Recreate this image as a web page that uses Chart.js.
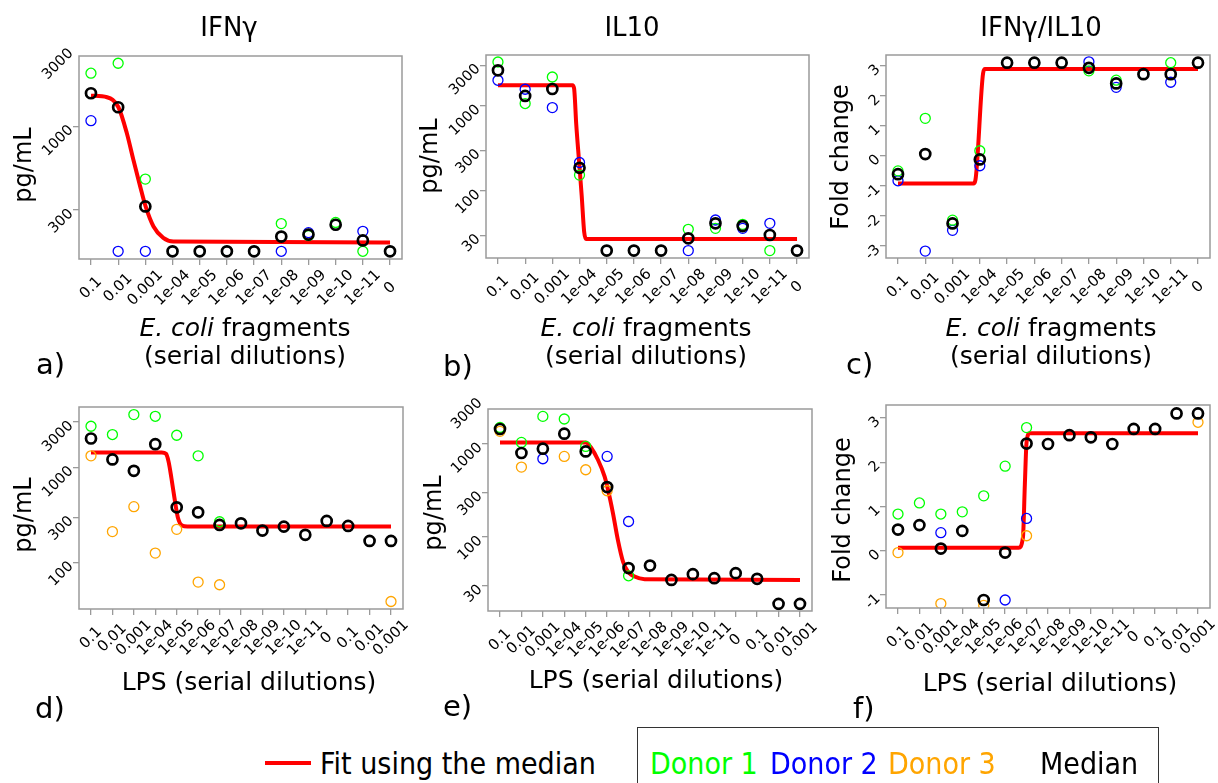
<!DOCTYPE html>
<html><head><meta charset="utf-8">
<script src="https://cdn.jsdelivr.net/npm/chart.js@4"></script>
<style>
body{margin:0;background:#fff;width:1218px;height:783px;overflow:hidden;position:relative;font-family:"DejaVu Sans",sans-serif;}
canvas{position:absolute;}
.t{position:absolute;white-space:nowrap;color:#000;line-height:1;}
.c{transform:translateX(-50%);}
.r{transform:translate(-50%,-50%) rotate(-90deg);}
.n{transform:scaleX(0.9);transform-origin:left center;}
</style></head><body>
<script>
// ---------- data ----------
const ecoliLabels = ['0.1','0.01','0.001','1e-04','1e-05','1e-06','1e-07','1e-08','1e-09','1e-10','1e-11','0'];
const lpsLabels = ['0.1','0.01','0.001','1e-04','1e-05','1e-06','1e-07','1e-08','1e-09','1e-10','1e-11','0','0.1','0.01','0.001'];

const ticksPg_a = [300, 1000, 3000];
const ticksPg_b = [30, 100, 300, 1000, 3000];
const ticksFold_c = [-3, -2, -1, 0, 1, 2, 3];
const ticksPg_d = [100, 300, 1000, 3000];
const ticksPg_e = [30, 100, 300, 1000, 3000];
const ticksFold_f = [-1, 0, 1, 2, 3];

// a) IFNg, E. coli
const aDonor1 = [2140, 2470, 468, 166, 166, 166, 166, 247, 208, 251, 166, 166];
const aDonor2 = [1083, 166, 166, 166, 166, 166, 166, 166, 217, 243, 221, 166];
const aMedian = [1605, 1313, 316, 166, 166, 166, 166, 205, 211, 243, 194, 166];
const aFitX = [0, 0.59, 1.01, 1.32, 1.56, 1.81, 2.01, 2.30, 2.66, 3.03, 11];
const aFitY = [1551, 1515, 1313, 904, 617, 421, 316, 237, 201, 191, 188.5];

// b) IL10, E. coli
const bDonor1 = [3266, 1061, 2178, 153, 19.8, 19.8, 19.8, 35.2, 36.2, 40.3, 19.8, 19.8];
const bDonor2 = [1992, 1562, 952, 215, 19.8, 19.8, 19.8, 19.8, 45.3, 36.2, 41.4, 19.8];
const bMedian = [2610, 1303, 1574, 186, 19.8, 19.8, 19.8, 27.6, 41.4, 38.5, 30.2, 19.8];
const bFitX = [0, 2.74, 2.80, 2.88, 2.98, 3.08, 3.17, 3.24, 11];
const bFitY = [1740, 1740, 1600, 600, 228, 87, 33, 27.1, 27.1];

// c) IFNg/IL10, E. coli
const cDonor1 = [-0.5, 1.25, -2.14, 0.17, 3.1, 3.1, 3.1, 2.83, 2.52, 2.72, 3.1, 3.1];
const cDonor2 = [-0.83, -3.17, -2.48, -0.33, 3.1, 3.1, 3.1, 3.13, 2.28, 2.72, 2.45, 3.1];
const cMedian = [-0.61, 0.06, -2.25, -0.12, 3.1, 3.1, 3.1, 2.93, 2.41, 2.72, 2.72, 3.1];
const cFitX = [0, 2.77, 2.84, 3.12, 3.19, 11];
const cFitY = [-0.92, -0.92, -0.8, 2.75, 2.89, 2.89];

// d) IFNg, LPS
const dDonor1 = [2707, 2216, 3589, 3444, 2178, 1323, 269, null, null, null, null, null, null, null, null];
const dDonor3 = [1323, 212, 387, 126, 224, 62.5, 58.6, null, null, null, null, null, null, null, 39.1];
const dMedian = [2013, 1213, 921, 1754, 381, 338, 249, 259, 217, 239, 196, 274, 243, 169, 169];
const dFitX = [0, 3.3, 3.5, 3.62, 3.75, 3.9, 4.05, 4.25, 4.5, 14];
const dFitY = [1436, 1436, 1390, 1150, 780, 470, 300, 245, 239, 239];

// e) IL10, LPS
const eDonor1 = [1496, 1033, 1963, 1841, 935, null, 38.4, null, null, null, null, null, null, null, null];
const eDonor2 = [null, null, 690, null, null, 731, 146.6, null, null, null, null, null, null, null, null];
const eDonor3 = [1356, 562, null, 731, 526, 313, null, null, null, null, null, null, null, null, null];
const eMedian = [1438, 795, 884, 1280, 827, 343, 46.4, 49.4, 34.7, 40.0, 36.2, 41.0, 35.6, 19.2, 19.2];
const eFitX = [0, 4.0, 4.26, 4.57, 4.88, 5.04, 5.27, 5.50, 5.74, 5.97, 6.28, 6.75, 14];
const eFitY = [1033, 1033, 899, 673, 446, 321, 180.5, 93.3, 54.6, 42.6, 37.7, 35.3, 34.7];

// f) IFNg/IL10, LPS
const fDonor1 = [0.83, 1.08, 0.83, 0.88, 1.24, 1.91, 2.78, null, null, null, null, null, null, null, null];
const fDonor2 = [null, null, 0.41, null, null, -1.11, 0.73, null, null, null, null, null, null, null, null];
const fDonor3 = [-0.04, null, -1.19, null, -1.23, null, 0.34, null, null, null, null, null, null, null, 2.9];
const fMedian = [0.48, 0.58, 0.05, 0.45, -1.11, -0.04, 2.42, 2.41, 2.61, 2.56, 2.41, 2.75, 2.75, 3.1, 3.1];
const fFitX = [0, 5.63, 5.83, 5.92, 6.0, 6.15, 14];
const fFitY = [0.07, 0.07, 0.3, 1.5, 2.45, 2.65, 2.65];

// ---------- layout / style ----------
const GREEN = '#00ff00', BLUE = '#0000ff', ORANGE = '#ffa500', BLACK = '#000000', RED = '#ff0000', GRAY = '#9a9a9a';
const PADL = 80, PADT = 50, PADR = 10, PADB = 110;
const XLABEL_FONT = '15px "DejaVu Sans"';
const XLABEL_DROP = 29;

// box around plot area + centred, 45-degree x tick labels placed through the x scale
const boxPlugin = {
  id: 'box',
  afterDatasetsDraw(chart) {
    const a = chart.chartArea, ctx = chart.ctx;
    ctx.save();
    ctx.strokeStyle = GRAY; ctx.lineWidth = 1.5;
    ctx.strokeRect(a.left, a.top, a.right - a.left, a.bottom - a.top);
    ctx.restore();
  },
  afterDraw(chart) {
    const labels = chart.options.plugins.box.labels;
    const xs = chart.scales.x, ctx = chart.ctx, a = chart.chartArea;
    ctx.save();
    ctx.font = XLABEL_FONT; ctx.fillStyle = '#000';
    ctx.textAlign = 'center'; ctx.textBaseline = 'middle';
    labels.forEach((lab, i) => {
      ctx.save();
      ctx.translate(xs.getPixelForValue(i), a.bottom + XLABEL_DROP);
      ctx.rotate(-Math.PI / 4);
      ctx.fillText(lab, 0, 0);
      ctx.restore();
    });
    ctx.restore();
  }
};

function pts(vals) { return vals.map((v, i) => ({ x: i, y: v })); }
function line(xs, ys) { return xs.map((x, i) => ({ x: x, y: ys[i] })); }

function donorDS(vals, color) {
  return { type: 'scatter', data: pts(vals), pointRadius: 5, pointBorderWidth: 1.3,
    pointBorderColor: color, pointBackgroundColor: 'rgba(0,0,0,0)', showLine: false, order: 2 };
}

function makePanel(id, box, labels, donors, median, fitX, fitY, yType, yMin, yMax, yTicks) {
  const cv = document.createElement('canvas');
  const W = (box.R - box.L) + PADL + PADR, H = (box.B - box.T) + PADT + PADB;
  cv.width = W; cv.height = H;
  cv.style.left = (box.L - PADL) + 'px'; cv.style.top = (box.T - PADT) + 'px';
  cv.style.width = W + 'px'; cv.style.height = H + 'px';
  document.body.appendChild(cv);
  const n = labels.length;
  const ext = (n - 1) * 0.04;
  const datasets = donors.map(d => donorDS(d.vals, d.color));
  datasets.push({ type: 'scatter', data: pts(median), pointRadius: 5, pointBorderWidth: 2.7,
    pointBorderColor: BLACK, pointBackgroundColor: 'rgba(0,0,0,0)', showLine: false, order: 0 });
  datasets.push({ type: 'line', data: line(fitX, fitY), borderColor: RED, borderWidth: 4,
    pointRadius: 0, fill: false, cubicInterpolationMode: 'monotone', order: 5 });
  const tickCol = (c) => (c.tick && (c.tick.value > yMax || c.tick.value < yMin)) ? 'rgba(0,0,0,0)' : GRAY;
  new Chart(cv, {
    type: 'scatter',
    data: { datasets },
    plugins: [boxPlugin],
    options: {
      responsive: false, animation: false, devicePixelRatio: 1, events: [],
      layout: { padding: { left: 0, top: PADT, right: PADR, bottom: 0 } },
      plugins: { legend: { display: false }, tooltip: { enabled: false }, box: { labels: labels } },
      scales: {
        x: {
          type: 'linear', min: -ext, max: (n - 1) + ext,
          afterBuildTicks: (s) => { s.ticks = labels.map((_, i) => ({ value: i })); },
          afterFit: (s) => { s.height = PADB; },
          grid: { display: true, drawOnChartArea: false, drawTicks: true, tickLength: 6, color: GRAY, tickWidth: 1.3, lineWidth: 1.3 },
          border: { display: false },
          ticks: { display: false, autoSkip: false, callback: (v) => labels[v] }
        },
        y: {
          type: yType, min: yMin, max: yMax,
          afterBuildTicks: (s) => { s.ticks = yTicks.map(v => ({ value: v })); },
          afterFit: (s) => { s.width = PADL; },
          grid: { display: true, drawOnChartArea: false, drawTicks: true, tickLength: 6, color: tickCol, tickColor: tickCol, tickWidth: 1.3, lineWidth: 1.3 },
          border: { display: false },
          ticks: { autoSkip: false, minRotation: 45, maxRotation: 45, padding: 2, labelOffset: 1.5, color: '#000',
            font: { family: 'DejaVu Sans', size: 14.5 }, callback: (v) => String(v) }
        }
      }
    }
  });
}

makePanel('a', {L:79, T:56, R:402, B:259}, ecoliLabels,
  [{vals: aDonor1, color: GREEN}, {vals: aDonor2, color: BLUE}], aMedian, aFitX, aFitY,
  'logarithmic', 148.6, 2740, ticksPg_a);
makePanel('b', {L:486, T:55, R:809, B:258}, ecoliLabels,
  [{vals: bDonor1, color: GREEN}, {vals: bDonor2, color: BLUE}], bMedian, bFitX, bFitY,
  'logarithmic', 16.2, 3950, ticksPg_b);
makePanel('c', {L:886, T:55, R:1210, B:258}, ecoliLabels,
  [{vals: cDonor1, color: GREEN}, {vals: cDonor2, color: BLUE}], cMedian, cFitX, cFitY,
  'linear', -3.4, 3.357, ticksFold_c);
makePanel('d', {L:79, T:407, R:403, B:609}, lpsLabels,
  [{vals: dDonor1, color: GREEN}, {vals: dDonor3, color: ORANGE}], dMedian, dFitX, dFitY,
  'logarithmic', 32.6, 4312, ticksPg_d);
makePanel('e', {L:488, T:409, R:812, B:611}, lpsLabels,
  [{vals: eDonor1, color: GREEN}, {vals: eDonor2, color: BLUE}, {vals: eDonor3, color: ORANGE}], eMedian, eFitX, eFitY,
  'logarithmic', 16.1, 2355, ticksPg_e);
makePanel('f', {L:886, T:405, R:1210, B:608}, lpsLabels,
  [{vals: fDonor1, color: GREEN}, {vals: fDonor2, color: BLUE}, {vals: fDonor3, color: ORANGE}], fMedian, fFitX, fFitY,
  'linear', -1.29, 3.29, ticksFold_f);

// ---------- text ----------
function txt(html, x, y, size, cls, extra) {
  const d = document.createElement('div');
  d.className = 't ' + (cls || '');
  d.innerHTML = html;
  d.style.left = x + 'px'; d.style.top = y + 'px'; d.style.fontSize = size + 'px';
  if (extra) Object.assign(d.style, extra);
  document.body.appendChild(d);
  return d;
}
// titles (baseline ~36)
txt('IFN&gamma;', 229, 14, 26, 'c');
txt('IL10', 632, 14, 26, 'c');
txt('IFN&gamma;/IL10', 1041, 14, 26, 'c');
// y titles
txt('pg/mL', 23, 165, 24, 'r');
txt('pg/mL', 429, 156, 24, 'r');
txt('Fold change', 840, 157, 24, 'r');
txt('pg/mL', 23, 515, 24, 'r');
txt('pg/mL', 433, 513, 24, 'r');
txt('Fold change', 842, 510, 24, 'r');
// x titles
const xt1 = '<i>E. coli</i> fragments';
txt(xt1, 245, 315, 25, 'c'); txt('(serial dilutions)', 245, 343, 25, 'c');
txt(xt1, 646, 315, 25, 'c'); txt('(serial dilutions)', 646, 343, 25, 'c');
txt(xt1, 1051, 315, 25, 'c'); txt('(serial dilutions)', 1051, 343, 25, 'c');
txt('LPS (serial dilutions)', 249, 669, 25, 'c');
txt('LPS (serial dilutions)', 656, 667, 25, 'c');
txt('LPS (serial dilutions)', 1050, 670, 25, 'c');
// panel letters
txt('a)', 36, 350, 29); txt('b)', 443, 352, 29); txt('c)', 846, 350, 29);
txt('d)', 35, 694, 29); txt('e)', 443, 692, 29); txt('f)', 853, 694, 29);
// legend
const rl = document.createElement('div');
Object.assign(rl.style, {position:'absolute', left:'265px', top:'761px', width:'46px', height:'4px', background: RED});
document.body.appendChild(rl);
txt('Fit using the median', 320, 749, 30, 'n');
const lb = document.createElement('div');
Object.assign(lb.style, {position:'absolute', left:'637px', top:'727px', width:'522px', height:'80px', border:'1.5px solid #333', boxSizing:'border-box'});
document.body.appendChild(lb);
txt('Donor 1', 650, 749, 30, 'n', {color: GREEN});
txt('Donor 2', 770, 749, 30, 'n', {color: BLUE});
txt('Donor 3', 888, 749, 30, 'n', {color: ORANGE});
txt('Median', 1040, 749, 30, 'n', {color: BLACK});
</script>
</body></html>
